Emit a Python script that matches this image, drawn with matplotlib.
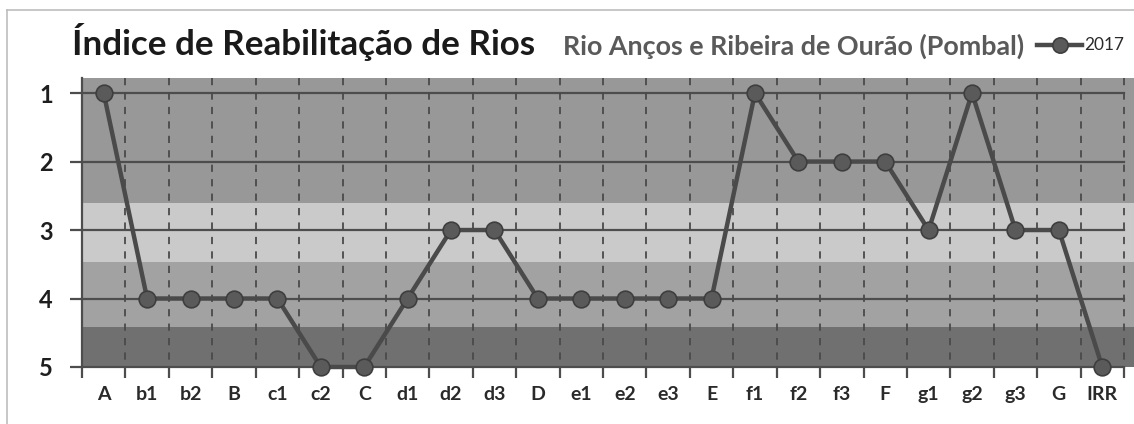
import matplotlib
matplotlib.use("Agg")
import matplotlib.pyplot as plt
from matplotlib.patches import Rectangle
from matplotlib.lines import Line2D

categories = ["A", "b1", "b2", "B", "c1", "c2", "C", "d1", "d2", "d3", "D",
              "e1", "e2", "e3", "E", "f1", "f2", "f3", "F", "g1", "g2", "g3", "G", "IRR"]
values_2017 = [1, 4, 4, 4, 4, 5, 5, 4, 3, 3, 4,
               4, 4, 4, 4, 1, 2, 2, 2, 3, 1, 3, 3, 5]
y_ticks = [1, 2, 3, 4, 5]
bands = [(0.78, 2.6, "#989898"), (2.6, 3.47, "#cacaca"),
         (3.47, 4.42, "#a2a2a2"), (4.42, 5.0, "#707070")]
title = "Índice de Reabilitação de Rios"
subtitle = "Rio Anços e Ribeira de Ourão (Pombal)"
series_name = "2017"

W, H = 1134, 424
fig = plt.figure(figsize=(W / 100, H / 100), dpi=100)
FONT = ["Lato", "DejaVu Sans"]

L, R, T, B = 82, 1124, 78, 367
ax = fig.add_axes([L / W, 1 - B / H, (R - L) / W, (B - T) / H])
n = len(categories)
ax.set_xlim(-0.5, n - 0.5)
ax.set_ylim(5, 0.78)

# background bands (extend slightly past the right edge like the reference)
for y0, y1, c in bands:
    ax.add_patch(Rectangle((0, y0), (1134 - L) / (R - L), y1 - y0,
                           transform=ax.get_yaxis_transform(), color=c,
                           lw=0, zorder=0, clip_on=False))

# horizontal gridlines
for yv in y_ticks:
    ax.plot([-0.5, n - 0.5], [yv, yv], color="#4d4d4d", lw=1.6, zorder=1, clip_on=False)

# vertical dashed lines at category boundaries
for k in range(n):
    ax.plot([k + 0.5, k + 0.5], [0.78, 5], color="#4a4a4a", lw=1.3,
            ls=(0, (4, 4)), zorder=1, clip_on=False)

for s in ["top", "right", "bottom"]:
    ax.spines[s].set_visible(False)
ax.spines["left"].set_color("#4d4d4d")
ax.spines["left"].set_linewidth(1.6)
ax.spines["left"].set_bounds(0.78, 5)

# data line
ax.plot(range(n), values_2017, color="#4a4a4a", lw=3.2, marker="o", ms=12,
        mfc="#5a5a5a", mec="#3e3e3e", mew=1.2, zorder=5, clip_on=False)

# ticks
ax.set_yticks(y_ticks)
ax.set_yticklabels([str(v) for v in y_ticks], fontfamily=FONT, fontweight="bold",
                   fontsize=17, color="#1e1e1e")
ax.tick_params(axis="y", length=9, width=1.6, color="#4d4d4d", pad=12)
ax.set_xticks([k - 0.5 for k in range(n + 1)])
ax.set_xticklabels([])
ax.tick_params(axis="x", which="major", length=8, width=1.6, color="#4d4d4d", direction="out")
ax.set_xticks(range(n), minor=True)
ax.set_xticklabels(categories, minor=True, fontfamily=FONT, fontweight="bold",
                   fontsize=14, color="#2a2a2a")
ax.tick_params(axis="x", which="minor", length=0, pad=14)

# frame
fig.add_artist(Line2D([7 / W, 1], [1 - 10 / H, 1 - 10 / H], color="#bdbdbd", lw=1.2))
fig.add_artist(Line2D([7 / W, 7 / W], [0, 1 - 10 / H], color="#bdbdbd", lw=1.2))

renderer = fig.canvas.get_renderer()


def fit_text(x_px, y_px, s, target_w, **kw):
    t = fig.text(x_px / W, 1 - y_px / H, s, **kw)
    bb = t.get_window_extent(renderer)
    t.set_fontsize(t.get_fontsize() * target_w / bb.width)
    return t


fit_text(72, 55, title, 464, fontfamily=FONT, fontweight="bold", fontsize=20,
         color="#1a1a1a", va="baseline", ha="left")
fit_text(563, 55, subtitle, 464, fontfamily=FONT, fontweight="bold", fontsize=14,
         color="#5a5a5a", va="baseline", ha="left")

# legend
fig.add_artist(Line2D([1037 / W, 1082 / W], [1 - 45 / H, 1 - 45 / H], color="#4a4a4a",
                      lw=3.2, marker=None))
fig.add_artist(Line2D([1060 / W], [1 - 45 / H], color="#4a4a4a", marker="o", ms=11,
                      mfc="#5a5a5a", mec="#3e3e3e", mew=1.2, ls="none"))
fit_text(1084, 45, series_name, 40, fontfamily=FONT, fontsize=12, color="#2a2a2a",
         va="center", ha="left")

fig.savefig("out.png", dpi=100)
